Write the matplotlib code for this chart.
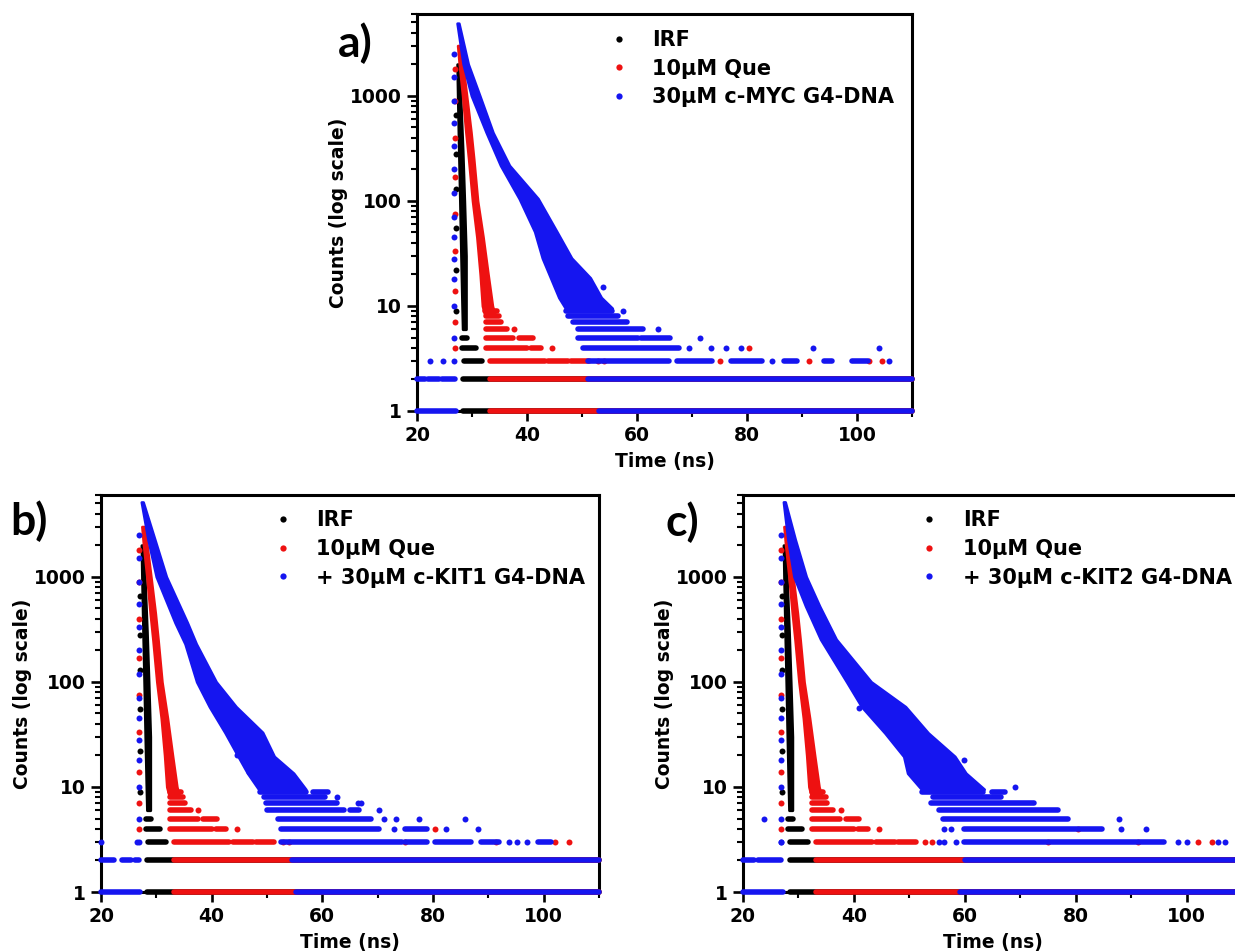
import matplotlib

matplotlib.use("Agg")
import matplotlib.pyplot as plt
from matplotlib.lines import Line2D
from matplotlib.ticker import FixedFormatter, FixedLocator, LogLocator, MultipleLocator, NullFormatter

plt.rcParams["font.family"] = ["DejaVu Sans"]
plt.rcParams["font.weight"] = "bold"

X_TICKS = [20, 40, 60, 80, 100]
Y_TICKS = [1, 10, 100, 1000]
Y_TICK_LABELS = ["1", "10", "100", "1000"]

# ---- IRF (instrument response), same in every panel ----
irf_band_c = [2000, 1000, 300, 100, 30, 10, 6]
irf_band_lo = [27.3, 27.4, 27.6, 27.8, 28.0, 28.2, 28.3]
irf_band_hi = [27.7, 27.9, 28.3, 28.6, 28.9, 28.9, 28.9]
irf_rows = [(5, 28.2, 29.0), (4, 28.2, 30.7), (3, 28.5, 31.8), (2, 28.4, 110), (1, 28.4, 110)]
irf_dots_t = [27.1, 27.1, 27.1, 27.1, 27.1, 27.1]
irf_dots_c = [9, 22, 55, 130, 280, 650]

# ---- 10 uM Que alone, same in every panel ----
que_band_c = [3000, 2000, 1000, 450, 250, 100, 45, 20, 10, 8]
que_band_lo = [27.4, 27.7, 28.3, 28.9, 29.4, 30.1, 30.9, 31.5, 31.9, 32.4]
que_band_hi = [27.8, 28.3, 29.0, 29.8, 30.3, 31.0, 32.0, 32.9, 33.7, 34.2]
que_rows = [
    (9, 32.4, 34.5), (8, 32.5, 34.9), (7, 32.5, 35.2), (6, 32.5, 36.3),
    (5, 32.5, 37.5), (5, 38.5, 41.0), (4, 32.5, 40.0), (4, 40.8, 42.5),
    (3, 33.2, 43.2), (3, 43.9, 47.4), (3, 48.0, 51.2),
    (2, 33.2, 110), (1, 33.2, 110),
]
que_dots_t = [26.9, 26.9, 26.9, 26.9, 26.9, 26.9, 26.9, 26.9, 26.9,
              37.6, 44.6, 52.9, 54.0, 75.0, 80.4, 91.3, 102.1, 104.6]
que_dots_c = [4, 7, 14, 33, 75, 170, 400, 900, 1800,
              6, 4, 3, 3, 3, 4, 3, 3, 3]

# rising edge of the G4-DNA traces
g4_rise_t = [26.8, 26.8, 26.8, 26.8, 26.8, 26.8, 26.8, 26.8, 26.8, 26.8, 26.8, 26.8, 26.8, 26.8]
g4_rise_c = [3, 5, 10, 18, 28, 45, 70, 120, 200, 330, 550, 900, 1500, 2500]

# ---- a) 30 uM c-MYC G4-DNA ----
myc_band_c = [4900, 2000, 1000, 447, 217, 105, 51, 28.5, 18.5, 12, 9.5]
myc_band_lo = [27.3, 28.4, 29.9, 32.6, 35.2, 38.6, 41.4, 42.8, 44.3, 45.8, 47.0]
myc_band_hi = [27.6, 29.3, 31.4, 33.8, 36.8, 42.0, 45.4, 48.1, 51.5, 53.5, 55.5]
myc_rows = [
    (9, 47.0, 55.5), (8, 47.5, 56.5), (7, 48.3, 58.1), (6, 49.2, 61.0),
    (5, 49.2, 60.1), (5, 60.8, 66.0), (4, 50.2, 67.7),
    (3, 51.0, 65.9), (3, 67.2, 73.7), (3, 77.0, 82.8), (3, 86.7, 89.0), (3, 94.0, 95.5), (3, 99.0, 102.0),
    (2, 20.0, 21.4), (2, 22.0, 24.0), (2, 24.6, 26.9), (2, 51.0, 110),
    (1, 20.0, 27.0), (1, 53.0, 110),
]
myc_dots_t = [53.8, 57.4, 63.8, 71.5, 69.5, 73.5, 76.2, 78.9, 92.0, 104.0, 22.4, 24.8, 84.6, 105.8]
myc_dots_c = [15, 9, 6, 5, 4, 4, 4, 4, 4, 4, 3, 3, 3, 3]

# ---- b) 30 uM c-KIT1 G4-DNA ----
kit1_band_c = [5140, 2270, 1000, 365, 230, 100, 58, 33, 19.5, 13.5, 9.5]
kit1_band_lo = [27.3, 28.5, 30.0, 33.4, 35.2, 37.3, 39.6, 42.4, 44.8, 46.5, 48.5]
kit1_band_hi = [27.6, 29.7, 31.8, 35.6, 37.2, 40.8, 44.4, 49.2, 51.3, 54.8, 57.0]
kit1_rows = [
    (9, 48.7, 57.0), (9, 58.4, 61.0), (8, 49.4, 60.5), (7, 49.8, 62.6),
    (6, 50.0, 64.0), (6, 65.0, 66.7), (5, 51.9, 68.8), (4, 52.5, 70.2), (4, 75.0, 78.9),
    (3, 52.5, 74.4), (3, 75.0, 79.0), (3, 80.3, 86.8), (3, 88.6, 92.0), (3, 98.9, 101.4),
    (2, 20.0, 22.4), (2, 23.8, 25.5), (2, 26.2, 26.9), (2, 54.6, 110),
    (1, 20.0, 27.0), (1, 55.3, 110),
]
kit1_dots_t = [42.9, 44.6, 46.7, 62.6, 66.4, 67.0, 70.2, 71.2, 73.3, 77.5, 85.8,
               73.0, 82.3, 88.2, 20.0, 26.5, 93.7, 95.1, 96.9]
kit1_dots_c = [33, 20, 14, 8, 7, 7, 6, 5, 5, 5, 5, 4, 4, 4, 3, 3, 3, 3, 3]

# ---- c) 30 uM c-KIT2 G4-DNA ----
kit2_band_c = [5150, 2270, 1000, 525, 254, 100, 58, 32.6, 19.5, 13.5, 9.5]
kit2_band_lo = [27.3, 28.1, 29.2, 31.3, 34.0, 38.7, 41.4, 45.6, 49.0, 49.7, 52.2]
kit2_band_hi = [27.6, 29.4, 31.4, 33.8, 36.8, 43.1, 49.3, 53.4, 58.2, 60.2, 63.5]
kit2_rows = [
    (9, 52.2, 63.2), (9, 65.0, 67.3), (8, 54.3, 66.6), (7, 53.9, 72.4),
    (6, 55.3, 76.9), (5, 56.0, 78.6), (4, 59.8, 84.8), (3, 59.8, 96.0),
    (2, 20.0, 22.0), (2, 22.7, 26.9), (2, 60.1, 110),
    (1, 20.0, 27.3), (1, 59.1, 110),
]
kit2_dots_t = [40.9, 59.8, 69.0, 87.9, 23.8, 56.3, 57.5, 88.2, 92.7,
               26.9, 55.3, 56.3, 58.4, 98.4, 100.1, 105.7, 107.0]
kit2_dots_c = [56, 18, 10, 5, 5, 4, 4, 4, 4, 3, 3, 3, 3, 3, 3, 3, 3]

IRF_LABEL = "IRF"
QUE_LABEL = "10\u03bcM Que"
G4_LABELS = ["30\u03bcM c-MYC G4-DNA", "+ 30\u03bcM c-KIT1 G4-DNA", "+ 30\u03bcM c-KIT2 G4-DNA"]
PANEL_TAGS = ["a)", "b)", "c)"]

BLACK, RED, BLUE = "black", "#ee1111", "#1515f0"
W, H = 1235, 952


def draw_trace(ax, color, band_c, band_lo, band_hi, rows, dots_t, dots_c, z):
    """Dense decay drawn as a filled band, integer count levels as bars, stray counts as dots."""
    ax.fill_betweenx(band_c, band_lo, band_hi, color=color, lw=2.0, zorder=z, clip_on=False)
    for level, t0, t1 in rows:
        ax.plot([t0, t1], [level, level], color=color, lw=4.0,
                solid_capstyle="round", zorder=z, clip_on=False)
    ax.plot(dots_t, dots_c, "o", ms=4.3, color=color, mew=0, zorder=z, clip_on=False)


def style_axes(ax):
    ax.set_yscale("log")
    ax.set_xlim(20, 110)
    ax.set_ylim(1, 6000)
    ax.xaxis.set_major_locator(FixedLocator(X_TICKS))
    ax.xaxis.set_minor_locator(MultipleLocator(10))
    ax.yaxis.set_major_locator(FixedLocator(Y_TICKS))
    ax.yaxis.set_major_formatter(FixedFormatter(Y_TICK_LABELS))
    ax.yaxis.set_minor_locator(LogLocator(base=10, subs=range(2, 10)))
    ax.yaxis.set_minor_formatter(NullFormatter())
    ax.tick_params(which="major", direction="out", length=7, width=1.9, labelsize=13.5, pad=4)
    ax.tick_params(which="minor", direction="out", length=4.5, width=1.5)
    for spine in ax.spines.values():
        spine.set_linewidth(2.2)
    ax.set_xlabel("Time (ns)", fontsize=13.5, fontweight="bold", labelpad=4.5)
    ax.set_ylabel("Counts (log scale)", fontsize=13.5, fontweight="bold", labelpad=1)


fig = plt.figure(figsize=(W / 100, H / 100), dpi=100)

# axes boxes in pixels: left, top, right, bottom
boxes = [(417, 14, 912, 411), (101, 495, 599, 892), (743, 495, 1242, 892)]
legend_anchor = [(0.391, 0.960), (0.349, 0.962), (0.357, 0.962)]
tag_pos = [(355, 43), (29, 521), (682, 522)]
g4_traces = [
    (myc_band_c, myc_band_lo, myc_band_hi, myc_rows, myc_dots_t, myc_dots_c),
    (kit1_band_c, kit1_band_lo, kit1_band_hi, kit1_rows, kit1_dots_t, kit1_dots_c),
    (kit2_band_c, kit2_band_lo, kit2_band_hi, kit2_rows, kit2_dots_t, kit2_dots_c),
]

for i, (l, t, r, b) in enumerate(boxes):
    ax = fig.add_axes([l / W, 1 - b / H, (r - l) / W, (b - t) / H])
    style_axes(ax)

    draw_trace(ax, BLACK, irf_band_c, irf_band_lo, irf_band_hi, irf_rows, irf_dots_t, irf_dots_c, 3)
    draw_trace(ax, RED, que_band_c, que_band_lo, que_band_hi, que_rows, que_dots_t, que_dots_c, 4)
    band_c, band_lo, band_hi, rows, dots_t, dots_c = g4_traces[i]
    draw_trace(ax, BLUE, band_c, band_lo, band_hi, rows,
               dots_t + g4_rise_t, dots_c + g4_rise_c, 5)

    handles = [Line2D([], [], ls="none", marker="o", ms=4.5, mew=0, color=c) for c in (BLACK, RED, BLUE)]
    leg = ax.legend(handles, [IRF_LABEL, QUE_LABEL, G4_LABELS[i]], loc="upper left",
                    bbox_to_anchor=legend_anchor[i], frameon=False, borderpad=0, borderaxespad=0,
                    handlelength=0.8, handletextpad=1.2, labelspacing=0.42,
                    prop={"size": 15, "weight": "bold"})
    leg.set_zorder(10)

    fig.text(tag_pos[i][0] / W, 1 - tag_pos[i][1] / H, PANEL_TAGS[i], ha="center", va="center",
             fontsize=32, fontweight="bold", family=["Lato", "DejaVu Sans"])

fig.savefig("out.png", dpi=100)
plt.close(fig)
